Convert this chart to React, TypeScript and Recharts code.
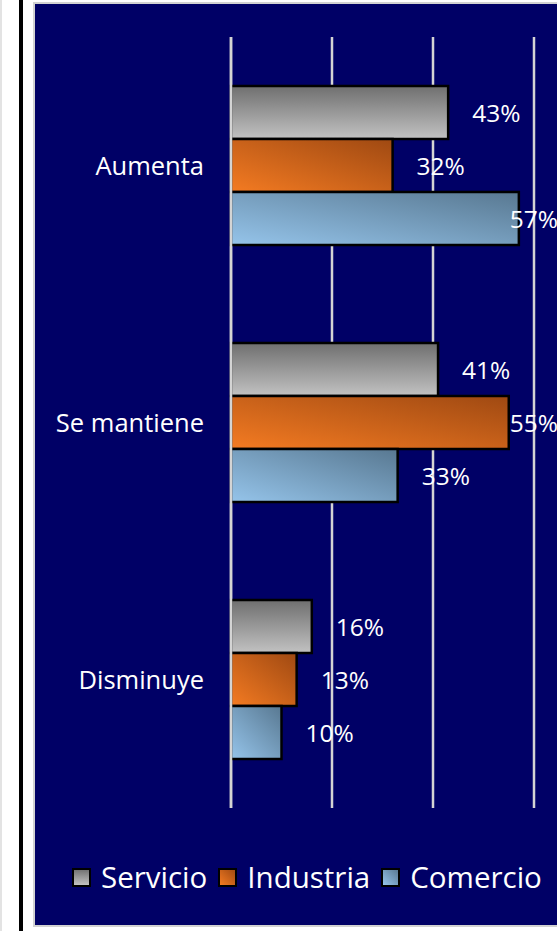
import { BarChart, Bar, XAxis, YAxis, CartesianGrid, Legend, LabelList } from "recharts";

const categories = ["Aumenta", "Se mantiene", "Disminuye"];
const servicio = [43, 41, 16];
const industria = [32, 55, 13];
const comercio = [57, 33, 10];
const xTicks = [0, 20, 40, 60, 80];

const data = categories.map((name, i) => ({
  name,
  Servicio: servicio[i],
  Industria: industria[i],
  Comercio: comercio[i],
}));

const FONT = "'Open Sans', 'Noto Sans', sans-serif";
const W = 557;
const H = 931;
// the original chart is wider than the visible crop; its right part is cut off
const CHART_W = 635;

const series = [
  { key: "Servicio", fill: "url(#gServ)", css: "linear-gradient(180deg, #737373, #c2c2c2)" },
  { key: "Industria", fill: "url(#gInd)", css: "linear-gradient(45deg, #f47b22, #a24b13)" },
  { key: "Comercio", fill: "url(#gCom)", css: "linear-gradient(45deg, #95c4ea, #5a7a94)" },
];

// value labels sit 24px past the bar end, but get pushed back inside the visible edge
const ValueLabel = (props: any) => {
  const { x, y, width, height, value } = props;
  const end = x + width;
  const txt = `${value}%`;
  const est = 46;
  const clamp = end + 24 + est > W;
  return (
    <text
      x={clamp ? W + 1 : end + 24}
      y={y + height / 2}
      textAnchor={clamp ? "end" : "start"}
      dominantBaseline="central"
      fill="#ffffff"
      fontSize={24.5}
      fontFamily={FONT}
    >
      {txt}
    </text>
  );
};

const renderLegend = () => (
  <div style={{ display: "flex", alignItems: "center", fontFamily: FONT, color: "#fff", fontSize: 29.5 }}>
    {series.map((s) => (
      <div key={s.key} style={{ display: "flex", alignItems: "center", marginRight: 11 }}>
        <span
          style={{
            display: "inline-block",
            width: 15,
            height: 15,
            border: "2px solid #000",
            background: s.css,
            marginRight: 10,
          }}
        />
        <span style={{ lineHeight: "30px" }}>{s.key}</span>
      </div>
    ))}
  </div>
);

export default function App() {
  return (
    <div style={{ position: "absolute", left: 0, top: 0, width: W, height: H, background: "#fff", overflow: "hidden" }}>
      <div style={{ position: "absolute", left: 0, top: 0, width: 2, height: H, background: "#e3e3e3" }} />
      <div style={{ position: "absolute", left: 19, top: 0, width: 4, height: H, background: "#000" }} />
      <div
        style={{
          position: "absolute",
          left: 33,
          top: 2,
          width: W,
          height: 921,
          border: "2px solid #d2d2d2",
          background: "#000066",
        }}
      />
      <div style={{ position: "absolute", left: 0, top: 0 }}>
        <BarChart
          width={CHART_W}
          height={H}
          data={data}
          layout="vertical"
          margin={{ top: 37, right: 0, bottom: 93, left: 35 }}
          barCategoryGap={49}
          barGap={0}
        >
          <defs>
            <linearGradient id="gServ" x1="0" y1="0" x2="0" y2="1">
              <stop offset="0%" stopColor="#6f6f6f" />
              <stop offset="100%" stopColor="#c2c2c2" />
            </linearGradient>
            <linearGradient id="gInd" x1="0" y1="1" x2="1" y2="0">
              <stop offset="0%" stopColor="#f47b22" />
              <stop offset="100%" stopColor="#9f4912" />
            </linearGradient>
            <linearGradient id="gCom" x1="0" y1="1" x2="1" y2="0">
              <stop offset="0%" stopColor="#95c4ea" />
              <stop offset="100%" stopColor="#587891" />
            </linearGradient>
          </defs>
          <CartesianGrid horizontal={false} stroke="#d4d4d4" strokeWidth={2.5} />
          <XAxis
            type="number"
            domain={[0, 80]}
            ticks={xTicks}
            tick={() => <g />}
            tickLine={false}
            axisLine={false}
            height={0}
          />
          <YAxis
            type="category"
            dataKey="name"
            width={196}
            tickSize={0}
            tickMargin={27}
            tickLine={false}
            axisLine={{ stroke: "#d4d4d4", strokeWidth: 2.5 }}
            tick={{ fill: "#ffffff", fontSize: 25.5, fontFamily: FONT }}
          />
          <Legend
            verticalAlign="bottom"
            content={renderLegend}
            wrapperStyle={{ left: 72, top: 862, width: 485, height: 30 }}
          />
          {series.map((s) => (
            <Bar
              key={s.key}
              dataKey={s.key}
              fill={s.fill}
              stroke="#000"
              strokeWidth={2.5}
              barSize={53}
              isAnimationActive={false}
            >
              <LabelList dataKey={s.key} content={ValueLabel} />
            </Bar>
          ))}
        </BarChart>
      </div>
    </div>
  );
}
